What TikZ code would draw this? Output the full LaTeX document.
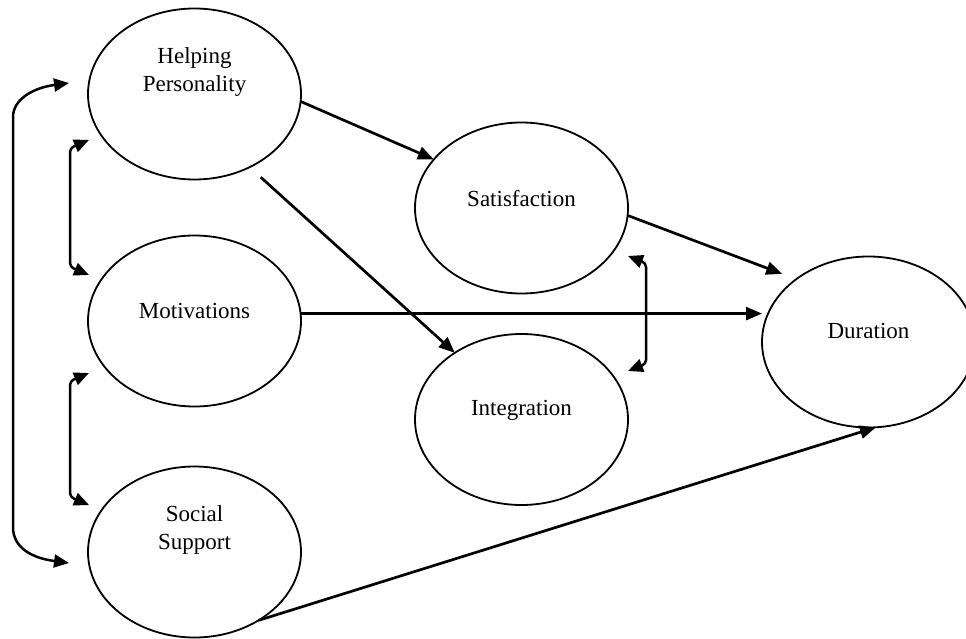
\documentclass[tikz,border=0pt]{standalone}
\usepackage{fontspec}
\setmainfont{Liberation Serif}
\usetikzlibrary{arrows.meta,shapes.geometric,calc}
\begin{document}
\begin{tikzpicture}[x=1pt,y=-1pt,
  ell/.style={draw=black, line width=1.8pt, ellipse, minimum width=213pt, minimum height=171pt, inner sep=0pt, outer sep=0pt},
  lbl/.style={font=\fontsize{23pt}{28pt}\selectfont, align=center, inner sep=0pt},
  conn/.style={draw=black, line width=2.7pt, -{Triangle[length=16pt,width=13pt]}},
  dconn/.style={draw=black, line width=2.5pt, {Triangle[length=15pt,width=13pt]}-{Triangle[length=15pt,width=13pt]}}]
\useasboundingbox (0,0) rectangle (966,639);
\clip (0,0) rectangle (966,639);

% ellipses
\node[ell, label={[lbl, name=hpt, yshift=21.5pt]center:{Helping\\Personality}}] (hp) at (194.5,94) {};
\node[ell, label={[lbl, name=mott, yshift=9.8pt]center:Motivations}] (mot) at (194.5,321) {};
\node[ell, label={[lbl, name=soct, yshift=22.5pt]center:{Social\\Support}}] (soc) at (194.5,552) {};
\node[ell, label={[lbl, name=satt, yshift=9.8pt]center:Satisfaction}] (sat) at (521.5,208) {};
\node[ell, label={[lbl, name=intt, yshift=8.8pt]center:Integration}] (int) at (521.5,419.5) {};
\node[ell, label={[lbl, name=durt, yshift=11.5pt]center:Duration}] (dur) at (868.5,342) {};

% directed paths
\draw[conn] (hp.-4.34) -- (sat.151.5);
\draw[conn, shorten <=15pt] (hp.-53.35) -- (int.135.4);
\draw[conn] (mot.4.3) -- (mot.4.3 -| dur.west);
\draw[conn, shorten >=15pt] (sat.-4.8) -- (dur.139.9);
\draw[conn] (soc.-47) -- (dur.-85.7);

% correlation brackets (free ends)
\coordinate (hpO) at (69,83);
\coordinate (socO) at (69,563);
\coordinate (hpI) at (89,140);
\coordinate (motI) at (89,275);
\coordinate (motJ) at (89,373);
\coordinate (socJ) at (89,505);
\coordinate (satR) at (628,256);
\coordinate (intR) at (628,371);

\draw[dconn] (hpO) .. controls (32,88) and (13,100) .. (13,117) -- (13,527) .. controls (13,548) and (32,558) .. (socO);
\draw[dconn, rounded corners=4pt] (hpI) -- (70,148) -- (70,267) -- (motI);
\draw[dconn, rounded corners=4pt] (motJ) -- (70,381) -- (70,497) -- (socJ);
\draw[dconn, rounded corners=4pt] (satR) -- (646,263) -- (646,364) -- (intR);
\end{tikzpicture}
\end{document}
